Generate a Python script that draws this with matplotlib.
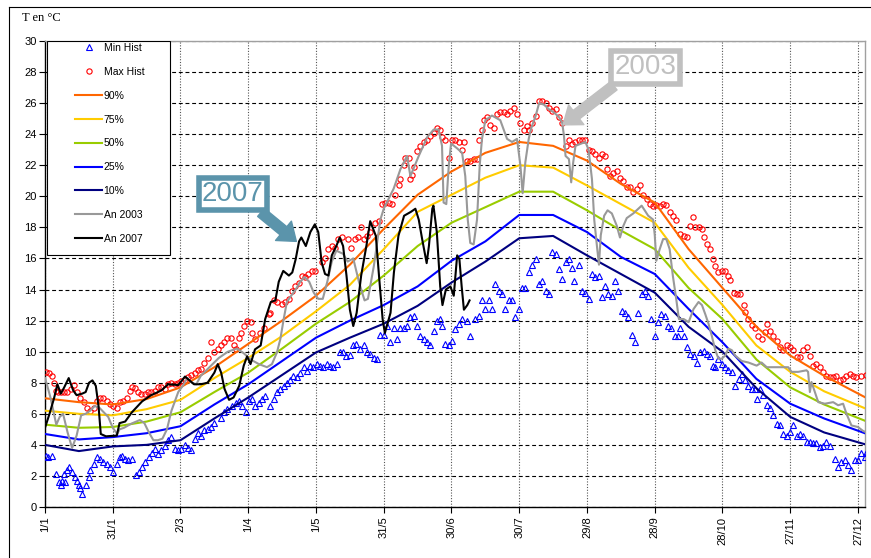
import matplotlib
matplotlib.use("Agg")
import matplotlib.pyplot as plt
from matplotlib.patches import Rectangle
from matplotlib.lines import Line2D

plt.rcParams['font.family'] = ['Liberation Sans', 'DejaVu Sans']

# ---------------- data ----------------
tick_days = [1, 31, 61, 91, 121, 151, 181, 211, 241, 271, 301, 331, 361]
tick_labels = ["1/1", "31/1", "2/3", "1/4", "1/5", "31/5", "30/6", "30/7",
               "29/8", "28/9", "28/10", "27/11", "27/12"]

pct_days = [1, 16, 31, 46, 61, 76, 91, 106, 121, 136, 151, 166, 181, 196, 211,
            226, 241, 256, 271, 286, 301, 316, 331, 346, 365]
p90 = [7.0, 6.75, 6.6, 6.95, 7.7, 9.0, 10.5, 12.0, 13.6, 15.6, 17.9, 20.1, 21.6,
       22.8, 23.5, 23.25, 22.3, 20.8, 19.6, 16.6, 14.1, 11.6, 9.75, 8.45, 7.0]
p75 = [6.2, 6.0, 5.9, 6.3, 6.9, 8.3, 9.6, 11.0, 12.6, 14.3, 16.6, 19.0, 20.1,
       21.2, 22.0, 21.85, 20.7, 19.5, 18.3, 15.4, 13.0, 10.4, 8.7, 7.45, 6.3]
p50 = [5.3, 5.1, 5.15, 5.5, 6.1, 7.4, 8.65, 10.2, 11.8, 13.2, 14.9, 16.8, 18.3,
       19.3, 20.3, 20.3, 19.1, 17.8, 16.6, 14.1, 12.1, 9.5, 7.7, 6.6, 5.5]
p25 = [4.7, 4.35, 4.5, 4.75, 5.2, 6.6, 7.9, 9.4, 10.9, 12.0, 13.0, 14.2, 15.85,
       17.1, 18.8, 18.8, 17.7, 16.1, 15.0, 12.75, 10.6, 8.25, 6.65, 5.7, 4.7]
p10 = [4.0, 3.6, 3.9, 4.0, 4.3, 5.7, 7.05, 8.5, 9.95, 10.9, 11.8, 12.95, 14.45,
       15.8, 17.3, 17.45, 16.2, 15.0, 13.8, 11.6, 10.0, 7.65, 5.8, 4.8, 4.0]

max_days = [1.6, 2.7, 3.9, 4.9, 5.7, 6.8, 7.9, 9.3, 10.8, 12.3, 13.7, 15.2, 16.7, 18.1,
            19.6, 21, 22.5, 24, 25.4, 26.9, 28.4, 29.8, 31.3, 32.8, 34.2, 35.7, 37.1,
            38.6, 39.6, 40.8, 42.3, 43.7, 45.2, 46.7, 48.1, 49.6, 51.1, 52.5, 54, 55.5,
            56.9, 58.4, 59.8, 61.3, 62.8, 64.2, 65.7, 67.2, 68.6, 70.1, 71.6, 73, 74.5,
            76, 77.4, 78.8, 80.3, 81.8, 83.2, 84.7, 85.4, 86.9, 87.6, 89.1, 90.6, 92,
            92.8, 94.2, 96.4, 97.9, 100, 100.8, 102.3, 103.7, 105.9, 107.4, 108.9,
            110.3, 111.8, 113.3, 114.7, 116.2, 117.6, 119.1, 120.6, 123.5, 125, 126.4,
            127.9, 129.4, 130.8, 132.3, 135.2, 136.7, 138.1, 139.6, 141, 142.2, 143.6,
            145.1, 147.3, 148.8, 150.3, 151.7, 153.2, 154.7, 156.2, 157.6, 158.4, 159.9,
            160.6, 162.1, 162.8, 163.5, 164.3, 165.7, 167.2, 168.7, 170.2, 171.6, 173.1,
            174.6, 176.1, 176.8, 178.3, 179.8, 181.2, 182.7, 184.2, 185.7, 186.4, 187.9,
            189.3, 190.8, 192.3, 193, 194.5, 195.5, 196.7, 198.2, 199.7, 201.2, 202.6,
            204.1, 205.6, 207, 208.5, 210, 211.5, 212.9, 214.4, 215.4, 216.8, 218.3,
            219.8, 221.2, 222.7, 224.2, 225.6, 227.1, 228.6, 230, 231.5, 233, 234.4,
            235.9, 237.3, 238.8, 240.3, 241.7, 243.2, 244.7, 246.1, 247.6, 249, 249.8,
            251.2, 252.7, 254.2, 255.6, 257.1, 258.6, 260, 261.5, 263, 264.4, 265.9,
            267.4, 268.8, 270.3, 271.7, 273.2, 274.7, 276.1, 277.6, 279, 280.5, 282.3,
            283.8, 285.3, 286.7, 287.9, 288.9, 290.4, 291.9, 292.6, 294.1, 295.6, 297,
            297.8, 299.2, 300.7, 302.2, 303.6, 304.4, 305.9, 307.3, 308.8, 310.3, 311,
            312.5, 314, 315.4, 316.9, 318.4, 319.8, 320.6, 322, 323.5, 325, 326.5,
            327.9, 329.4, 330.9, 332.4, 333.8, 335.3, 336.7, 338.2, 339.7, 341.1, 342.6,
            344.1, 345.5, 347, 348.5, 350, 351.4, 352.9, 354.4, 355.9, 357.4, 358.8,
            360.3, 362.5, 364.7]
max_vals = [8.7, 8.6, 8.45, 8.0, 7.5, 7.4, 7.4, 7.4, 7.4, 7.6, 7.85, 7.4, 7.0, 6.75,
            6.4, 6.2, 6.4, 6.85, 7.0, 7.0, 6.85, 6.6, 6.5, 6.4, 6.75, 6.85, 7.0,
            7.5, 7.7, 7.65, 7.4, 7.3, 7.3, 7.4, 7.4, 7.5, 7.7, 7.7, 7.6, 7.9,
            8.0, 7.9, 8.0, 8.1, 8.2, 8.4, 8.5, 8.6, 8.8, 8.9, 9.3, 9.6, 10.6,
            9.95, 10.2, 10.4, 10.6, 10.9, 10.9, 10.4, 10.2, 10.9, 11.2, 11.65, 12.0, 11.9,
            11.2, 10.8, 11.2, 11.55, 12.4, 12.5, 13.3, 13.2, 13.05, 13.2, 13.4,
            13.9, 14.2, 14.45, 14.9, 14.8, 15.0, 15.2, 15.2, 15.75, 16.0, 16.6,
            16.8, 16.7, 17.25, 17.35, 17.25, 16.7, 17.25, 17.35, 18.0, 17.25, 17.45,
            17.7, 18.3, 18.4, 19.5, 19.6, 19.6, 19.5, 20.1, 20.7, 21.1, 22.0,
            22.5, 22.5, 21.1, 21.4, 21.9, 22.9, 23.25, 23.5, 23.6, 23.9, 24.1,
            24.4, 24.3, 23.8, 23.6, 22.5, 23.6, 23.6, 23.5, 23.0, 23.5, 22.3,
            22.3, 22.4, 22.4, 23.6, 24.3, 24.9, 25.1, 24.6, 24.4, 25.3, 25.4,
            25.4, 25.3, 25.5, 25.7, 25.3, 24.75, 24.3, 24.5, 24.3, 24.75, 25.2,
            26.15, 26.15, 26.0, 25.7, 25.5, 25.6, 25.1, 24.75, 23.25, 23.6, 23.4,
            23.5, 23.6, 23.6, 23.6, 23.0, 22.9, 22.7, 22.5, 22.7, 22.6, 21.75,
            21.3, 21.5, 21.6, 21.2, 21.0, 20.6, 20.6, 20.25, 20.5, 20.7, 20.1,
            19.8, 19.5, 19.4, 19.45, 19.4, 19.5, 19.45, 19.0, 18.75, 18.5, 17.55,
            17.45, 17.35, 18.1, 18.65, 18.0, 18.0, 17.9, 17.35, 16.9, 16.6, 15.95,
            15.5, 15.1, 15.2, 15.2, 14.9, 14.6, 13.8, 13.7, 13.7, 13.0, 12.55,
            12.1, 11.7, 11.5, 11.0, 10.8, 11.25, 11.8, 11.35, 11.0, 10.7, 10.3,
            10.1, 10.4, 10.3, 10.1, 9.65, 9.65, 10.1, 10.3, 9.75, 9.1, 9.2,
            9.0, 8.7, 8.45, 8.35, 8.35, 8.45, 8.15, 8.25, 8.45, 8.55, 8.45,
            8.35, 8.45, 8.5]

min_days = [1.3, 2.5, 4.2, 5.7, 7.2, 7.9, 8.6, 9.3, 10, 10.8, 11.5, 13, 14.4, 15.2,
            15.9, 16.7, 17.4, 19.1, 20.3, 21, 22.5, 24, 25.4, 26.9, 28.4, 29.8, 31.3,
            32.8, 34.2, 35, 36.4, 37.9, 39.6, 41.1, 42.6, 44, 45.2, 47, 48.4, 49.6,
            51.1, 52.5, 54, 55.5, 56.9, 58.4, 59.8, 61.3, 62.8, 64.2, 65.7, 67.2, 68.6,
            70.1, 71.6, 73, 74.5, 76, 78.8, 80.3, 81.8, 84, 85.4, 86.9, 88.4, 89.8,
            91.3, 92.8, 94.2, 95.7, 97.1, 98.6, 100.8, 102.3, 103.7, 105.2, 106.7,
            108.1, 109.6, 111, 112.5, 114, 115.5, 116.9, 118.4, 119.8, 121.3, 122.8,
            124.2, 125.7, 127.2, 128.6, 130.1, 131.6, 133, 134.5, 136, 137.4, 138.9,
            140.3, 142.2, 143.6, 145.1, 146.6, 148, 149.5, 151, 152.5, 153.9, 155.4,
            156.9, 158.4, 159.9, 161.3, 162.8, 164.3, 165.7, 167.2, 168.7, 170.2,
            171.6, 173.1, 174.6, 176.1, 176.8, 178.3, 179.8, 181.2, 182.7, 184.2,
            185.7, 187.9, 189.3, 191.6, 193, 194.5, 196, 197.5, 198.9, 200.4, 201.9,
            203.4, 204.8, 206.3, 207.8, 209.3, 210.7, 212.2, 213.7, 215.4, 216.8,
            218.3, 219.8, 221.2, 222.7, 224.2, 225.6, 227.1, 228.6, 230, 231.5, 233,
            234.4, 235.1, 237.3, 238.8, 240.3, 241.7, 243.2, 244.7, 246.1, 247.6, 249,
            250.5, 252, 253.4, 254.9, 256.4, 257.8, 259.3, 260.8, 262.2, 263.7, 265.2,
            266.6, 268.1, 269.5, 271, 272.5, 273.9, 275.4, 276.9, 278.3, 279.8, 281.3,
            282.3, 283.8, 285.3, 286.7, 288.2, 289.7, 291.1, 292.6, 294.1, 295.6, 297,
            297.8, 299.2, 300.7, 302.2, 303.6, 305.1, 306.6, 308.1, 309.5, 311, 312.5,
            314, 315.4, 316.1, 317.6, 319.1, 320.6, 322, 323.5, 325, 326.5, 327.9,
            329.4, 330.9, 332.4, 333.8, 335.3, 336.7, 338.2, 339.7, 341.1, 342.6,
            344.1, 345.5, 347, 348.5, 350.7, 352.2, 353.6, 355.1, 356.6, 358.1, 359.5,
            361, 362.5, 363.9, 364.7]
min_vals = [3.3, 3.2, 3.3, 2.15, 1.6, 1.4, 1.7, 2.15, 1.6, 2.35, 2.55, 2.25, 1.9, 1.7,
            1.4, 1.2, 0.85, 1.4, 1.9, 2.35, 2.8, 3.2, 3.1, 2.9, 2.8, 2.55, 2.25,
            2.8, 3.2, 3.3, 3.1, 3.0, 3.1, 2.05, 2.25, 2.55, 2.9, 3.2, 3.5, 3.75,
            3.4, 3.65, 3.95, 4.3, 4.5, 3.75, 3.65, 3.75, 4.0, 3.8, 3.7, 4.4, 4.75,
            4.6, 4.95, 5.05, 5.15, 5.4, 5.75, 6.1, 6.3, 6.5, 6.7, 6.8, 6.5, 6.1,
            6.8, 6.95, 6.5, 6.7, 6.95, 7.15, 6.5, 6.95, 7.4, 7.6, 7.8,
            8.0, 8.2, 8.45, 8.35, 8.65, 9.0, 8.75, 9.1, 9.0, 9.2, 9.1,
            9.0, 9.2, 9.1, 9.0, 9.2, 9.95, 9.95, 9.7, 9.8, 10.4, 10.5,
            10.15, 10.4, 9.95, 9.85, 9.6, 9.5, 11.1, 11.1, 11.65, 10.6, 11.55,
            10.8, 11.55, 11.55, 11.65, 12.2, 12.3, 11.65, 11.0, 10.8, 10.6,
            10.4, 11.35, 12.0, 12.1, 11.65, 10.5, 10.4, 10.7, 11.45, 11.8,
            12.1, 12.0, 11.0, 12.1, 12.3, 13.3, 12.75, 13.3, 12.75, 14.35, 13.9,
            13.7, 12.75, 13.3, 13.3, 12.2, 12.75, 14.1, 14.1, 15.1, 15.6,
            15.95, 14.35, 14.55, 13.9, 13.7, 16.4, 16.3, 15.3, 14.7, 15.75, 15.95,
            15.4, 14.55, 15.6, 13.9, 13.8, 13.4, 15.0, 14.8, 14.9, 13.5, 14.25,
            13.7, 13.6, 14.55, 13.9, 12.6, 12.5, 12.2, 11.1, 10.6, 12.5, 13.7,
            13.9, 13.6, 12.1, 11.0, 11.9, 12.4, 12.3, 11.65, 11.55, 11.0, 11.0,
            11.5, 11.0, 10.3, 9.85, 9.75, 9.3, 9.95, 10.05, 9.85, 9.75, 9.1,
            9.0, 9.5, 9.2, 9.0, 8.8, 8.7, 7.8, 8.25, 8.55, 8.15, 7.8,
            7.6, 7.6, 6.95, 7.6, 7.2, 6.55, 6.35, 5.9, 5.35, 5.25, 4.7,
            4.6, 4.8, 5.25, 4.6, 4.7, 4.6, 4.2, 4.2, 4.1, 4.1,
            3.85, 3.95, 4.2, 3.95, 3.1, 2.6, 2.9, 3.0, 2.7, 2.35, 3.0,
            3.0, 3.45, 3.2, 3.5]

y2003_days = [1, 2, 3.5, 5, 6, 7.5, 9, 11, 13, 15, 17, 19, 21, 23, 25, 27, 29, 31, 33,
              34, 36, 39, 43, 45, 47, 49, 51, 53, 55, 57, 59, 60, 62, 64, 66, 68, 70,
              74.5, 78, 82, 86, 89, 92, 95.7, 99.3, 101.5, 103.7, 105.2, 106.7, 108.1,
              110, 112, 114, 116, 118, 120, 122, 124, 126, 128, 130, 133, 135, 137.5,
              140, 142.5, 144, 146.6, 149.5, 151, 155.4, 158.4, 161.3, 162.8, 166.5,
              170.2, 173.1, 175.3, 176.8, 177.5, 178.7, 179.8, 180.8, 183.4, 185.7,
              187.1, 188.2, 189.3, 190.8, 192.3, 193.5, 194.5, 196, 198.9, 202.6,
              205.6, 207.8, 210, 211.5, 212.5, 213.7, 215.2, 216.1, 218.3, 219.8, 222,
              224.2, 226.4, 228.6, 230, 230.8, 231.5, 233, 234, 234.9, 235.9, 240.3,
              241.7, 243.2, 244.2, 245.4, 246.3, 247.1, 248.6, 250.1, 252, 254.2, 255.6,
              257.1, 258.6, 261.5, 265.2, 268.1, 270.3, 271, 271.7, 273.2, 274.7, 276.1,
              277.6, 279, 280.5, 281.7, 283.8, 286, 288.2, 290.4, 291.9, 293.4, 294.8,
              296.3, 297.8, 299.2, 300.7, 302.2, 303.6, 305.1, 306.6, 309.5, 312.5,
              316.1, 318.3, 320.6, 324.2, 327.9, 330.1, 331.6, 334.5, 338.2, 338.9,
              339.7, 340.4, 341.9, 343.4, 346.3, 350, 352.2, 354.4, 355.9, 358.1, 361,
              363.2, 364.7]
y2003_vals = [8.3, 7.8, 7.0, 6.0, 5.3, 5.8, 6.0, 4.8, 3.8, 4.6, 5.9, 6.0, 6.2, 6.5, 6.4,
              6.1, 5.8, 5.1, 4.7, 5.0, 5.1, 5.35, 5.6, 5.4, 4.8, 4.3, 4.3, 4.4, 5.0, 6.2,
              7.0, 7.4, 7.8, 8.3, 8.0, 7.9, 8.45, 9.1, 9.6, 10.0, 10.2, 9.9, 9.5, 9.2,
              9.0, 9.2, 9.95, 10.8, 12.1, 13.2, 13.6, 14.0, 14.5, 14.8, 14.5, 13.8,
              13.4, 13.4, 14.5, 15.8, 16.5, 16.3, 15.8, 16.0, 14.5, 13.3, 13.4, 15.5,
              18.5, 19.2, 20.5, 21.75, 22.6, 21.3, 22.6, 23.8, 24.3, 24.3, 23.25, 19.6,
              19.5, 22.0, 23.4, 23.1, 22.8, 21.3, 18.5, 17.0, 16.9, 18.5, 22.0, 23.7,
              24.9, 25.2, 24.9, 23.7, 23.5, 23.7, 22.0, 20.2, 22.2, 23.7, 24.3, 25.2,
              26.0, 25.9, 25.6, 25.4, 25.1, 24.75, 23.9, 22.6, 22.4, 20.9, 22.2, 23.25,
              23.5, 23.0, 21.1, 18.5, 16.8, 15.6, 17.5, 18.75, 19.1, 18.9, 18.1, 17.35,
              18.1, 18.6, 18.9, 19.4, 18.75, 18.5, 17.5, 15.85, 16.6, 17.25, 17.25,
              16.6, 14.9, 13.4, 12.1, 12.1, 11.9, 12.75, 13.2, 13.0, 12.4, 11.8, 11.0,
              10.1, 9.55, 9.55, 9.75, 10.2, 10.1, 9.75, 9.4, 9.3, 9.1, 9.3, 9.0, 9.0,
              9.0, 9.0, 8.7, 8.7, 8.8, 8.7, 7.4, 8.05, 7.4, 6.75, 6.65, 6.75, 6.55,
              6.65, 6.0, 5.25, 5.15, 4.9, 4.8]

y2007_days = [1, 3, 5, 6.5, 8, 9.5, 11.5, 13.5, 15, 17.5, 19, 20.5, 22, 23.5, 24.7,
              25.7, 28, 32.8, 34, 36.5, 39.5, 44, 48, 52.5, 55.5, 60, 63, 67, 70, 73,
              76, 77.5, 79, 80.5, 82.5, 84.5, 87, 89, 90.5, 92, 94, 96.5, 98.5, 101,
              103, 104.5, 106.5, 109, 110.5, 112, 113.5, 114.5, 116.5, 118.5, 120.5,
              122, 123.5, 125, 126.5, 128, 130, 131.5, 133, 134.5, 136, 137.5, 139,
              141, 143.3, 145, 147.5, 149, 150.5, 151.5, 154, 155.5, 157.5, 160, 163,
              165, 166.5, 168, 170, 171, 172.5, 173, 174.5, 176, 177, 178.5, 180.5,
              182, 183.5, 184.5, 185.5, 186.5, 188, 189]
y2007_vals = [5.1, 6.0, 7.0, 7.9, 7.3, 7.7, 8.3, 7.5, 7.2, 7.3, 7.4, 8.0, 8.15, 7.8,
              6.5, 4.7, 4.55, 4.6, 5.4, 5.5, 6.1, 6.8, 7.2, 7.5, 7.9, 7.85, 8.4, 7.9,
              7.9, 8.0, 8.65, 9.2, 8.65, 7.6, 6.9, 7.05, 7.8, 9.1, 9.7, 9.2, 10.15,
              10.4, 12.1, 13.2, 13.3, 14.5, 15.2, 14.9, 15.1, 15.95, 17.1, 17.35, 16.8,
              17.7, 18.2, 17.7, 15.75, 15.0, 14.9, 16.2, 16.8, 17.35, 16.8, 14.9, 12.7,
              11.65, 12.5, 14.9, 16.8, 18.4, 17.45, 14.7, 12.1, 11.2, 12.5, 15.1,
              17.45, 18.75, 19.0, 19.2, 18.5, 17.25, 15.7, 16.8, 19.2, 19.4, 17.7,
              14.2, 13.0, 14.0, 14.2, 13.6, 16.2, 15.95, 14.2, 12.7, 13.0, 13.3]

# ---------------- styling ----------------
C90, C75, C50, C25, C10 = "#FF6600", "#FFCC00", "#99CC00", "#0000FF", "#000080"
C03, C07 = "#999999", "#000000"
C_ANN07, C_ANN03 = "#5B94AB", "#C0C0C0"

W, H = 871, 558
fig = plt.figure(figsize=(W / 100, H / 100), dpi=100)
ax_l, ax_r, ax_t, ax_b = 45, 865, 41, 507
ax = fig.add_axes([ax_l / W, 1 - ax_b / H, (ax_r - ax_l) / W, (ax_b - ax_t) / H])

ax.plot(min_days, min_vals, linestyle="none", marker="^", markersize=4.3,
        markerfacecolor="none", markeredgecolor="#0000FF", markeredgewidth=0.8,
        label="Min Hist", zorder=3)
ax.plot(max_days, max_vals, linestyle="none", marker="o", markersize=3.8,
        markerfacecolor="none", markeredgecolor="#FF0000", markeredgewidth=0.8,
        label="Max Hist", zorder=3)
ax.plot(pct_days, p90, color=C90, lw=1.5, label="90%", zorder=4)
ax.plot(pct_days, p75, color=C75, lw=1.5, label="75%", zorder=4)
ax.plot(pct_days, p50, color=C50, lw=1.5, label="50%", zorder=4)
ax.plot(pct_days, p25, color=C25, lw=1.5, label="25%", zorder=4)
ax.plot(pct_days, p10, color=C10, lw=1.5, label="10%", zorder=4)
ax.plot(y2003_days, y2003_vals, color=C03, lw=1.5, label="An 2003", zorder=5)
ax.plot(y2007_days, y2007_vals, color=C07, lw=1.5, label="An 2007", zorder=6)

ax.set_xlim(1, 364.1)
ax.set_ylim(0, 30)
ax.set_yticks(range(0, 31, 2))
ax.set_xticks(tick_days)
ax.set_xticklabels(tick_labels, rotation=90, fontsize=8)
ax.tick_params(axis="y", labelsize=8, length=4, width=0.8, direction="out", pad=2)
ax.tick_params(axis="x", length=4, width=0.8, direction="out", pad=3)

ax.grid(axis="y", color="black", linestyle=(0, (3.5, 2.5)), linewidth=0.8)
ax.grid(axis="x", color="#555555", linestyle=(0, (1, 1.5)), linewidth=0.8)
ax.set_axisbelow(True)

for s in ("left", "bottom"):
    ax.spines[s].set_color("black")
    ax.spines[s].set_linewidth(1.0)
for s in ("top", "right"):
    ax.spines[s].set_color("#A0A0A0")
    ax.spines[s].set_linewidth(1.0)

# legend: frame drawn separately, entries without frame
box_l, box_r, box_t, box_b = 47, 170, 41, 255
ax.add_patch(Rectangle(((box_l - ax_l) / (ax_r - ax_l), (ax_b - box_b) / (ax_b - ax_t)),
                       (box_r - box_l) / (ax_r - ax_l), (box_b - box_t) / (ax_b - ax_t),
                       transform=ax.transAxes, facecolor="white", edgecolor="black",
                       linewidth=0.8, zorder=7))
leg = ax.legend(loc="upper left",
                bbox_to_anchor=((75 - ax_l) / (ax_r - ax_l), (ax_b - 43) / (ax_b - ax_t)),
                frameon=False, fontsize=7.5, handlelength=2.6, handletextpad=0.15,
                labelspacing=1.33, borderpad=0.0, borderaxespad=0.0, numpoints=1)
leg.set_zorder(8)

# annotations
arrow_style = "simple,head_length=0.6,head_width=0.9,tail_width=0.38"
ax.annotate("2007", xy=(112.3, 17.1), xytext=(84.2, 20.15), textcoords="data",
            ha="center", va="center", fontsize=20, color=C_ANN07,
            bbox=dict(boxstyle="square,pad=0.12", fc="white", ec=C_ANN07, lw=4),
            arrowprops=dict(arrowstyle=arrow_style, fc=C_ANN07, ec=C_ANN07,
                            shrinkA=0, shrinkB=0, relpos=(0.85, 0.0)),
            zorder=9)
ax.annotate("2003", xy=(230.4, 24.6), xytext=(266.9, 28.3), textcoords="data",
            ha="center", va="center", fontsize=20, color=C_ANN03,
            bbox=dict(boxstyle="square,pad=0.12", fc="white", ec=C_ANN03, lw=4),
            arrowprops=dict(arrowstyle=arrow_style, fc=C_ANN03, ec=C_ANN03,
                            shrinkA=0, shrinkB=0, relpos=(0.1, 0.0)),
            zorder=9)

fig.text(22 / W, 1 - 18 / H, "T en °C", fontsize=9, family=["Liberation Serif", "DejaVu Serif"],
         ha="left", va="center")

# outer frame lines
fig.add_artist(Line2D([9 / W, 9 / W], [0, 1 - 7 / H], color="black", lw=0.8))
fig.add_artist(Line2D([9 / W, 1], [1 - 7 / H, 1 - 7 / H], color="black", lw=0.8))

fig.savefig("out.png", dpi=100)
